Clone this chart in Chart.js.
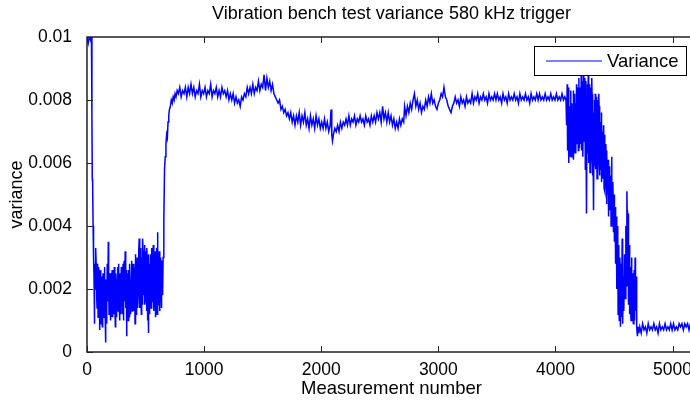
<!DOCTYPE html>
<html>
<head>
<meta charset="utf-8">
<script src="https://cdn.jsdelivr.net/npm/chart.js@4/dist/chart.umd.min.js"></script>
<style>
  html, body { margin: 0; padding: 0; background: #fff; overflow: hidden; }
  #wrap { width: 702px; height: 400px; }
</style>
</head>
<body>
<div id="wrap"><canvas id="varianceChart" width="702" height="400"></canvas></div>
<script>
const startSamples = [
  [0, 0.0100], [10, 0.0098], [20, 0.0100], [30, 0.0099], [38, 0.0100],
  [42, 0.0075], [45, 0.0055], [48, 0.0054], [52, 0.0040], [56, 0.0030],
  [60, 0.0024], [63, 0.0009], [66, 0.0028], [70, 0.0020], [74, 0.0033]
];
const lowNoise = [
  [80, 0.0026], [86, 0.0014], [92, 0.0028], [98, 0.0018], [104, 0.0022], [110, 0.0007],
  [116, 0.0021], [122, 0.0009], [128, 0.0019], [134, 0.0013], [140, 0.0022], [146, 0.0011],
  [152, 0.0018], [158, 0.0003], [164, 0.0020], [170, 0.0015], [176, 0.0024], [182, 0.0035],
  [188, 0.0012], [194, 0.0022], [200, 0.0010], [206, 0.0019], [212, 0.0024], [218, 0.0011],
  [224, 0.0026], [230, 0.0014], [236, 0.0021], [242, 0.0008], [248, 0.0023], [254, 0.0017],
  [260, 0.0027], [266, 0.0013], [272, 0.0022], [278, 0.0010], [284, 0.0025], [290, 0.0016],
  [296, 0.0023], [302, 0.0012], [308, 0.0028], [314, 0.0018], [320, 0.0024], [326, 0.0032],
  [332, 0.0014], [338, 0.0005], [344, 0.0022], [350, 0.0017], [356, 0.0026], [362, 0.0011],
  [368, 0.0023], [374, 0.0015], [380, 0.0029], [386, 0.0013], [392, 0.0024], [398, 0.0018],
  [404, 0.0027], [410, 0.0009], [416, 0.0025], [422, 0.0016], [428, 0.0030], [434, 0.0014],
  [440, 0.0026], [446, 0.0036], [452, 0.0019], [458, 0.0029], [464, 0.0012], [470, 0.0027],
  [476, 0.0036], [482, 0.0018], [488, 0.0031], [494, 0.0015], [500, 0.0028], [506, 0.0019],
  [512, 0.0033], [518, 0.0010], [524, 0.0006], [530, 0.0025], [536, 0.0017], [542, 0.0031],
  [548, 0.0014], [554, 0.0027], [560, 0.0021], [566, 0.0034], [572, 0.0013], [578, 0.0029],
  [584, 0.0011], [590, 0.0026], [596, 0.0018], [602, 0.0038], [608, 0.0015], [614, 0.0030],
  [620, 0.0013], [626, 0.0027], [632, 0.0020], [638, 0.0029], [644, 0.0021], [650, 0.0030]
];
const lowNoiseFill = [
  [83, 0.0017], [89, 0.0024], [95, 0.0011], [101, 0.0027], [107, 0.0015], [113, 0.0026],
  [119, 0.0016], [125, 0.0024], [131, 0.0008], [137, 0.0025], [143, 0.0017], [149, 0.0027],
  [155, 0.0012], [161, 0.0023], [167, 0.0009], [173, 0.0028], [179, 0.0016], [185, 0.0026],
  [191, 0.0014], [197, 0.0025], [203, 0.0017], [209, 0.0011], [215, 0.0026], [221, 0.0018],
  [227, 0.0012], [233, 0.0027], [239, 0.0016], [245, 0.0025], [251, 0.0011], [257, 0.0021],
  [263, 0.0019], [269, 0.0028], [275, 0.0015], [281, 0.0021], [287, 0.0012], [293, 0.0027],
  [299, 0.0018], [305, 0.0024], [311, 0.0010], [317, 0.0029], [323, 0.0016], [329, 0.0022],
  [335, 0.0026], [341, 0.0013], [347, 0.0025], [353, 0.0010], [359, 0.0021], [365, 0.0028],
  [371, 0.0012], [377, 0.0020], [383, 0.0025], [389, 0.0017], [395, 0.0028], [401, 0.0013],
  [407, 0.0022], [413, 0.0031], [419, 0.0012], [425, 0.0021], [431, 0.0024], [437, 0.0018],
  [443, 0.0032], [449, 0.0014], [455, 0.0033], [461, 0.0022], [467, 0.0030], [473, 0.0015],
  [479, 0.0032], [485, 0.0023], [491, 0.0034], [497, 0.0017], [503, 0.0032], [509, 0.0013],
  [515, 0.0027], [521, 0.0020], [527, 0.0031], [533, 0.0012], [539, 0.0028], [545, 0.0019],
  [551, 0.0033], [557, 0.0016], [563, 0.0026], [569, 0.0030], [575, 0.0017], [581, 0.0032],
  [587, 0.0020], [593, 0.0033], [599, 0.0012], [605, 0.0027], [611, 0.0019], [617, 0.0032],
  [623, 0.0017], [629, 0.0030], [635, 0.0014], [641, 0.0026], [647, 0.0018]
];
const rise = [
  [656, 0.0042], [662, 0.0058], [668, 0.0062], [674, 0.0066], [680, 0.0069], [686, 0.0068],
  [692, 0.0073], [698, 0.0075], [704, 0.0077], [712, 0.0078], [720, 0.0080], [728, 0.0079],
  [736, 0.0081], [744, 0.0080], [752, 0.0082], [760, 0.0081], [770, 0.0083]
];
const plateauHigh = [
  [780, 0.0082], [792, 0.0084], [804, 0.0081], [816, 0.0083], [828, 0.0082], [840, 0.0084],
  [852, 0.0081], [864, 0.0084], [876, 0.0082], [888, 0.0085], [900, 0.0082], [912, 0.0084],
  [924, 0.0081], [936, 0.0083], [948, 0.0082], [960, 0.0085], [972, 0.0081], [984, 0.0083],
  [996, 0.0082], [1008, 0.0084], [1020, 0.0081], [1032, 0.0083], [1044, 0.0082], [1056, 0.0085],
  [1068, 0.0081], [1080, 0.0083], [1092, 0.0082], [1104, 0.0084], [1116, 0.0081], [1128, 0.0083],
  [1140, 0.0081], [1152, 0.0084], [1164, 0.0082], [1176, 0.0083], [1188, 0.0081], [1200, 0.0083],
  [1212, 0.0080], [1224, 0.0082], [1236, 0.0080], [1248, 0.0082], [1260, 0.0079], [1272, 0.0081],
  [1284, 0.0079], [1296, 0.0080], [1308, 0.0078], [1320, 0.0081], [1332, 0.0080], [1344, 0.0082],
  [1356, 0.0081], [1368, 0.0084], [1380, 0.0082], [1392, 0.0084], [1404, 0.0082], [1416, 0.0085],
  [1428, 0.0082], [1440, 0.0084], [1452, 0.0083], [1464, 0.0086], [1476, 0.0083], [1488, 0.0085],
  [1500, 0.0084], [1512, 0.0088], [1524, 0.0083], [1536, 0.0087], [1548, 0.0084], [1560, 0.0086],
  [1572, 0.0083], [1584, 0.0085], [1596, 0.0082]
];
const sag = [
  [1608, 0.0081], [1620, 0.0080], [1632, 0.0079], [1644, 0.0080], [1656, 0.0077], [1668, 0.0078],
  [1680, 0.0076], [1692, 0.0077], [1704, 0.0075], [1716, 0.0076], [1728, 0.0074], [1740, 0.0076],
  [1752, 0.0073], [1764, 0.0075], [1776, 0.0072], [1788, 0.0075], [1800, 0.0073], [1812, 0.0076],
  [1824, 0.0072], [1836, 0.0075], [1848, 0.0073], [1860, 0.0076], [1872, 0.0072], [1884, 0.0074],
  [1896, 0.0071], [1908, 0.0075], [1920, 0.0072], [1932, 0.0074], [1944, 0.0071], [1956, 0.0075],
  [1968, 0.0072], [1980, 0.0074], [1992, 0.0071], [2004, 0.0073], [2016, 0.0071], [2028, 0.0074],
  [2040, 0.0071], [2052, 0.0073], [2064, 0.0070], [2076, 0.0072], [2084, 0.0077], [2090, 0.0069],
  [2096, 0.0067], [2104, 0.0069], [2116, 0.0071], [2128, 0.0070], [2140, 0.0072], [2152, 0.0070],
  [2164, 0.0073], [2176, 0.0071], [2188, 0.0073], [2200, 0.0072], [2212, 0.0074], [2224, 0.0072],
  [2236, 0.0075], [2248, 0.0072], [2260, 0.0074], [2272, 0.0073], [2284, 0.0075], [2296, 0.0072],
  [2308, 0.0074], [2320, 0.0073], [2332, 0.0075], [2344, 0.0073], [2356, 0.0074], [2368, 0.0072],
  [2380, 0.0075], [2392, 0.0073], [2404, 0.0074], [2416, 0.0072], [2428, 0.0075], [2440, 0.0073],
  [2452, 0.0075], [2464, 0.0073], [2476, 0.0076], [2488, 0.0074], [2500, 0.0076], [2512, 0.0073],
  [2524, 0.0078], [2536, 0.0074], [2548, 0.0076], [2560, 0.0073], [2572, 0.0076], [2584, 0.0073],
  [2596, 0.0075], [2608, 0.0072], [2620, 0.0074], [2632, 0.0071], [2644, 0.0073], [2656, 0.0071],
  [2668, 0.0074], [2680, 0.0072], [2692, 0.0074], [2704, 0.0073]
];
const plateauLate = [
  [2712, 0.0078], [2724, 0.0075], [2736, 0.0078], [2748, 0.0076], [2760, 0.0079], [2772, 0.0077],
  [2784, 0.0080], [2796, 0.0082], [2808, 0.0078], [2820, 0.0080], [2832, 0.0077], [2844, 0.0079],
  [2856, 0.0076], [2868, 0.0078], [2880, 0.0077], [2892, 0.0080], [2904, 0.0078], [2916, 0.0081],
  [2928, 0.0079], [2940, 0.0082], [2952, 0.0079], [2964, 0.0080], [2976, 0.0078], [2988, 0.0077],
  [3000, 0.0079], [3012, 0.0080], [3024, 0.0082], [3036, 0.0081], [3048, 0.0084], [3060, 0.0081],
  [3072, 0.0080], [3084, 0.0078], [3096, 0.0077], [3108, 0.0076], [3120, 0.0078], [3132, 0.0079],
  [3144, 0.0081], [3156, 0.0079], [3168, 0.0080], [3180, 0.0078], [3192, 0.0081], [3204, 0.0079],
  [3216, 0.0080], [3228, 0.0078], [3240, 0.0081], [3252, 0.0079], [3264, 0.0080], [3276, 0.0079],
  [3288, 0.0082], [3300, 0.0079], [3312, 0.0081], [3324, 0.0080], [3336, 0.0082], [3348, 0.0079],
  [3360, 0.0081], [3372, 0.0080], [3384, 0.0082], [3396, 0.0080], [3408, 0.0081], [3420, 0.0079],
  [3432, 0.0082], [3444, 0.0080], [3456, 0.0081], [3468, 0.0080], [3480, 0.0082], [3492, 0.0080],
  [3504, 0.0082], [3516, 0.0080], [3528, 0.0081], [3540, 0.0079], [3552, 0.0082], [3564, 0.0080],
  [3576, 0.0081], [3588, 0.0079], [3600, 0.0082], [3612, 0.0080], [3624, 0.0081], [3636, 0.0080],
  [3648, 0.0082], [3660, 0.0080], [3672, 0.0081], [3684, 0.0079], [3696, 0.0082], [3708, 0.0080],
  [3720, 0.0081], [3732, 0.0080], [3744, 0.0082], [3756, 0.0080], [3768, 0.0081], [3780, 0.0079],
  [3792, 0.0082], [3804, 0.0080], [3816, 0.0081], [3828, 0.0080], [3840, 0.0082], [3852, 0.0080],
  [3864, 0.0082], [3876, 0.0080], [3888, 0.0081], [3900, 0.0080], [3912, 0.0082], [3924, 0.0080],
  [3936, 0.0081], [3948, 0.0080], [3960, 0.0082], [3972, 0.0080], [3984, 0.0081], [3996, 0.0080],
  [4008, 0.0082], [4020, 0.0080], [4032, 0.0081], [4044, 0.0080], [4056, 0.0082], [4068, 0.0080],
  [4080, 0.0081], [4090, 0.0080]
];
const breakdown = [
  [4095, 0.0072], [4100, 0.0085], [4105, 0.0064], [4110, 0.0080], [4115, 0.0060], [4120, 0.0078],
  [4125, 0.0066], [4130, 0.0083], [4135, 0.0062], [4140, 0.0079], [4145, 0.0070], [4150, 0.0076],
  [4155, 0.0061], [4160, 0.0082], [4165, 0.0068], [4170, 0.0079], [4175, 0.0063], [4180, 0.0085],
  [4185, 0.0069], [4190, 0.0080], [4195, 0.0064], [4200, 0.0087], [4205, 0.0070], [4210, 0.0084],
  [4215, 0.0066], [4220, 0.0088], [4225, 0.0072], [4230, 0.0086], [4235, 0.0062], [4240, 0.0089],
  [4245, 0.0067], [4250, 0.0083], [4255, 0.0058], [4260, 0.0086], [4265, 0.0044], [4270, 0.0081],
  [4275, 0.0063], [4280, 0.0088], [4285, 0.0060], [4290, 0.0085], [4295, 0.0057], [4300, 0.0084],
  [4305, 0.0062], [4310, 0.0087], [4315, 0.0056], [4320, 0.0079], [4325, 0.0045], [4330, 0.0076],
  [4335, 0.0059], [4340, 0.0082], [4345, 0.0058], [4350, 0.0077], [4355, 0.0055], [4360, 0.0080],
  [4365, 0.0061], [4370, 0.0082], [4375, 0.0056], [4380, 0.0075], [4385, 0.0060], [4390, 0.0073],
  [4395, 0.0054], [4400, 0.0070], [4405, 0.0058], [4410, 0.0072], [4415, 0.0052], [4420, 0.0069],
  [4425, 0.0055], [4430, 0.0066], [4435, 0.0047], [4440, 0.0064], [4445, 0.0050], [4450, 0.0061],
  [4455, 0.0043], [4460, 0.0059], [4465, 0.0045], [4470, 0.0056], [4475, 0.0040], [4480, 0.0062],
  [4485, 0.0042], [4490, 0.0054], [4495, 0.0038], [4500, 0.0050], [4505, 0.0035], [4510, 0.0046],
  [4515, 0.0028], [4520, 0.0043], [4525, 0.0020], [4530, 0.0040], [4535, 0.0012], [4540, 0.0034],
  [4545, 0.0010], [4550, 0.0030], [4555, 0.0008], [4560, 0.0028], [4565, 0.0014], [4570, 0.0036],
  [4575, 0.0009], [4580, 0.0024], [4585, 0.0013], [4590, 0.0031], [4595, 0.0017], [4600, 0.0040],
  [4605, 0.0021], [4610, 0.0051], [4615, 0.0026], [4620, 0.0044], [4625, 0.0015], [4630, 0.0034],
  [4635, 0.0012], [4640, 0.0027], [4645, 0.0010], [4650, 0.0030], [4655, 0.0014], [4660, 0.0025],
  [4665, 0.0009], [4670, 0.0022], [4675, 0.0010], [4680, 0.0030], [4685, 0.0013], [4690, 0.0024],
  [4695, 0.0008], [4700, 0.0005], [4705, 0.0008], [4712, 0.0006]
];
const breakdownFill = [
  [4102, 0.0068], [4112, 0.0084], [4122, 0.0062], [4132, 0.0076], [4142, 0.0065], [4152, 0.0083],
  [4162, 0.0063], [4172, 0.0075], [4182, 0.0066], [4192, 0.0084], [4202, 0.0065], [4212, 0.0078],
  [4222, 0.0064], [4232, 0.0080], [4242, 0.0070], [4252, 0.0087], [4262, 0.0063], [4272, 0.0085],
  [4282, 0.0066], [4292, 0.0080], [4302, 0.0059], [4312, 0.0082], [4322, 0.0061], [4332, 0.0080],
  [4342, 0.0063], [4352, 0.0081], [4362, 0.0057], [4372, 0.0078], [4382, 0.0058], [4392, 0.0076],
  [4402, 0.0055], [4412, 0.0068], [4422, 0.0051], [4432, 0.0063], [4442, 0.0052], [4452, 0.0058],
  [4462, 0.0046], [4472, 0.0055], [4482, 0.0044], [4492, 0.0050], [4502, 0.0040], [4512, 0.0044],
  [4522, 0.0030], [4532, 0.0036], [4542, 0.0015], [4552, 0.0026], [4562, 0.0011], [4572, 0.0030],
  [4582, 0.0016], [4592, 0.0024], [4602, 0.0032], [4612, 0.0045], [4622, 0.0020], [4632, 0.0028],
  [4642, 0.0015], [4652, 0.0024], [4662, 0.0012], [4672, 0.0026], [4682, 0.0015], [4692, 0.0020]
];
const tail = [
  [4720, 0.0008], [4732, 0.0006], [4744, 0.0009], [4756, 0.0007], [4768, 0.0008], [4780, 0.0006],
  [4792, 0.0009], [4804, 0.0007], [4816, 0.0008], [4828, 0.0007], [4840, 0.0009], [4852, 0.0007],
  [4864, 0.0008], [4876, 0.0006], [4888, 0.0009], [4900, 0.0007], [4912, 0.0008], [4924, 0.0007],
  [4936, 0.0009], [4948, 0.0007], [4960, 0.0008], [4972, 0.0007], [4984, 0.0009], [4996, 0.0007],
  [5008, 0.0009], [5020, 0.0007], [5032, 0.0008], [5044, 0.0007], [5056, 0.0009], [5068, 0.0008],
  [5080, 0.0009], [5092, 0.0007], [5104, 0.0009], [5116, 0.0008], [5128, 0.0009], [5140, 0.0007],
  [5152, 0.0009], [5164, 0.0008], [5176, 0.0009], [5188, 0.0008], [5200, 0.0009]
];

const xTicks = [0, 1000, 2000, 3000, 4000, 5000];
const yTickLabels = ['0', '0.002', '0.004', '0.006', '0.008', '0.01'];

const FONT = '"Liberation Sans", Arial, Helvetica, sans-serif';
const INK = '#222';

const samples = [].concat(startSamples, lowNoise, lowNoiseFill, rise, plateauHigh, sag,
        plateauLate, breakdown, breakdownFill, tail)
    .sort((a, b) => a[0] - b[0])
    .map(p => ({ x: p[0], y: p[1] }));

// MATLAB style box, inward ticks, title and legend
const matlabFrame = {
    id: 'matlabFrame',
    afterDraw(chart) {
        const { ctx, chartArea: a, scales } = chart;
        ctx.save();
        ctx.strokeStyle = INK;
        ctx.lineWidth = 1.5;
        ctx.strokeRect(a.left, a.top, a.right - a.left, a.bottom - a.top);
        ctx.lineWidth = 1;
        ctx.beginPath();
        scales.x.ticks.forEach(t => {
            const px = Math.round(scales.x.getPixelForValue(t.value)) + 0.5;
            ctx.moveTo(px, a.bottom); ctx.lineTo(px, a.bottom - 6);
            ctx.moveTo(px, a.top); ctx.lineTo(px, a.top + 6);
        });
        scales.y.ticks.forEach(t => {
            const py = Math.round(scales.y.getPixelForValue(t.value)) + 0.5;
            ctx.moveTo(a.left, py); ctx.lineTo(a.left + 6, py);
            ctx.moveTo(a.right, py); ctx.lineTo(a.right - 6, py);
        });
        ctx.stroke();

        // title, centred over the axes box
        ctx.fillStyle = '#000';
        ctx.font = '18px ' + FONT;
        ctx.textAlign = 'center';
        ctx.textBaseline = 'middle';
        ctx.fillText('Vibration bench test variance 580 kHz trigger', (a.left + a.right) / 2, 14);

        // legend
        const bx = a.right - 162, by = a.top + 9, bw = 152, bh = 29;
        ctx.fillStyle = '#fff';
        ctx.fillRect(bx, by, bw, bh);
        ctx.strokeStyle = '#000';
        ctx.lineWidth = 1;
        ctx.strokeRect(bx + 0.5, by + 0.5, bw, bh);
        ctx.strokeStyle = '#0000ff';
        ctx.beginPath();
        ctx.moveTo(bx + 12, by + 15);
        ctx.lineTo(bx + 68, by + 15);
        ctx.stroke();
        ctx.fillStyle = '#000';
        ctx.font = '18.5px ' + FONT;
        ctx.textAlign = 'left';
        ctx.fillText('Variance', bx + 73, by + 16);
        ctx.restore();
    }
};

new Chart(document.getElementById('varianceChart'), {
    type: 'line',
    data: {
        datasets: [{
            label: 'Variance',
            data: samples,
            borderColor: '#0000ff',
            borderWidth: 1.5,
            pointRadius: 0,
            tension: 0,
            fill: false
        }]
    },
    options: {
        responsive: false,
        animation: false,
        layout: { padding: { top: 37, right: 6, left: 0, bottom: 0 } },
        scales: {
            x: {
                type: 'linear',
                min: 0,
                max: 5200,
                afterBuildTicks: s => { s.ticks = xTicks.map(v => ({ value: v })); },
                afterFit: s => { s.height = 48; },
                grid: { display: false },
                border: { display: false },
                ticks: {
                    color: '#000',
                    padding: 0,
                    maxRotation: 0,
                    font: { family: FONT, size: 17.5 },
                    callback: v => String(v)
                },
                title: {
                    display: true,
                    text: 'Measurement number',
                    color: '#000',
                    padding: { top: 0, bottom: 1 },
                    font: { family: FONT, size: 18.5, lineHeight: 1.05 }
                }
            },
            y: {
                min: 0,
                max: 0.01,
                afterBuildTicks: s => { s.ticks = yTickLabels.map((l, i) => ({ value: i * 0.002 })); },
                afterFit: s => { s.width = 87; },
                grid: { display: false },
                border: { display: false },
                ticks: {
                    color: '#000',
                    padding: 7,
                    font: { family: FONT, size: 17.5 },
                    callback: (v, i) => yTickLabels[i]
                },
                title: {
                    display: true,
                    text: 'variance',
                    color: '#000',
                    padding: { top: 6, bottom: 0 },
                    font: { family: FONT, size: 18 }
                }
            }
        },
        plugins: {
            legend: { display: false },
            tooltip: { enabled: false },
            title: { display: false }
        }
    },
    plugins: [matlabFrame]
});
</script>
</body>
</html>
